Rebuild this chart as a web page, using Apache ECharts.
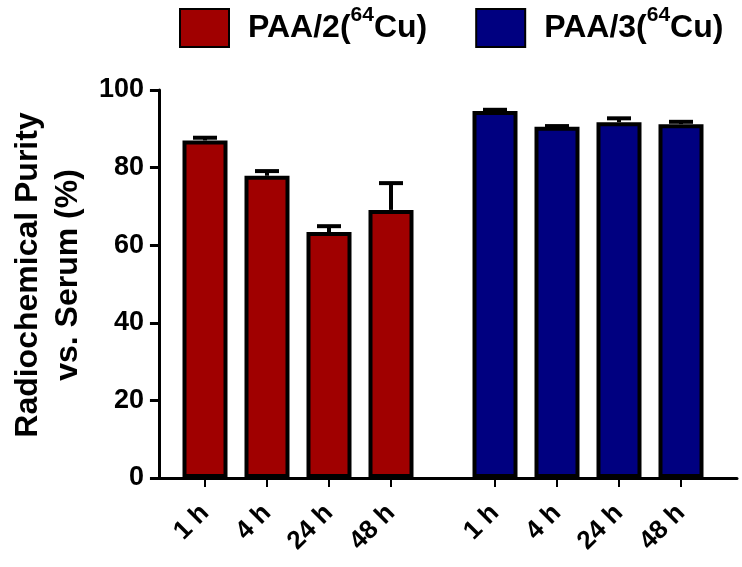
<!DOCTYPE html>
<html>
<head>
<meta charset="utf-8">
<title>Radiochemical purity vs. serum</title>
<script src="https://cdn.jsdelivr.net/npm/echarts@6/dist/echarts.min.js"></script>
<style>
  html, body { margin: 0; padding: 0; background: #fff; }
  #chart { width: 742px; height: 567px; }
</style>
</head>
<body>
<div id="chart"></div>
<script>
// time points (same for both groups)
var timeLabels = ['1 h', '4 h', '24 h', '48 h']
var yTicks = [0, 20, 40, 60, 80, 100]
// PAA/2(64Cu)
var paa2Mean = [87.0, 77.9, 63.4, 69.1]
var paa2Err = [0.7, 1.2, 1.5, 6.9]
// PAA/3(64Cu)
var paa3Mean = [94.6, 90.5, 91.7, 91.2]
var paa3Err = [0.3, 0.2, 1.0, 0.6]
var seriesNames = ['PAA/2(64Cu)', 'PAA/3(64Cu)']
var seriesColors = ['#a00000', '#000080']

var font = '"Liberation Sans", Arial, sans-serif'
var plotTop = 90
var plotBottom = 89

function errorBars(params, api) {
  var base = api.coord([api.value(0), api.value(1)])
  var top = api.coord([api.value(0), api.value(1) + api.value(2)])
  var style = { stroke: '#000', lineWidth: 4 }
  return {
    type: 'group',
    children: [
      { type: 'line', shape: { x1: base[0], y1: base[1], x2: top[0], y2: top[1] }, style: style },
      { type: 'line', shape: { x1: top[0] - 12, y1: top[1], x2: top[0] + 12, y2: top[1] }, style: style }
    ]
  }
}

function groupXAxis(gridIndex) {
  return {
    type: 'category',
    gridIndex: gridIndex,
    data: timeLabels,
    axisLine: { show: false },
    axisTick: { show: true, alignWithLabel: true, length: 9, lineStyle: { color: '#000', width: 2 } },
    axisLabel: { rotate: 45, margin: 31, color: '#000', fontSize: 26, fontWeight: 'bold', fontFamily: font }
  }
}

function hiddenYAxis(gridIndex) {
  return { type: 'value', gridIndex: gridIndex, min: yTicks[0], max: yTicks[yTicks.length - 1], show: false }
}

var chart = echarts.init(document.getElementById('chart'))
chart.setOption({
  backgroundColor: '#fff',
  animation: false,
  legend: {
    data: seriesNames,
    left: 174,
    top: 0,
    itemWidth: 49,
    itemHeight: 38,
    itemGap: 48,
    icon: 'rect',
    formatter: function(n) {
      return '{t|' + n.replace(/\((\d+)/, '(}{s|$1}{t|') + '}'
    },
    textStyle: {
      padding: [0, 0, 0, 14],
      rich: {
        t: { fontSize: 32, fontWeight: 'bold', fontFamily: font, color: '#000', lineHeight: 46 },
        s: { fontSize: 21, fontWeight: 'bold', fontFamily: font, color: '#000', lineHeight: 24, verticalAlign: 'top' }
      }
    }
  },
  grid: [
    // frame grid: holds the y axis and the continuous baseline
    { left: 152, right: 5, top: plotTop, bottom: plotBottom },
    { left: 174, width: 248, top: plotTop, bottom: plotBottom },
    { left: 464, width: 248, top: plotTop, bottom: plotBottom }
  ],
  xAxis: [
    {
      type: 'value', gridIndex: 0, min: 0, max: 1,
      axisLine: { show: true, lineStyle: { color: '#000', width: 3 } },
      axisTick: { show: false }, axisLabel: { show: false }, splitLine: { show: false }
    },
    groupXAxis(1),
    groupXAxis(2)
  ],
  yAxis: [
    {
      type: 'value', gridIndex: 0,
      min: yTicks[0], max: yTicks[yTicks.length - 1], interval: yTicks[1] - yTicks[0],
      name: 'Radiochemical Purity\nvs. Serum (%)',
      nameLocation: 'middle',
      nameGap: 70,
      nameTextStyle: { color: '#000', fontSize: 32, fontWeight: 'bold', fontFamily: font, lineHeight: 40, padding: [0, 0, 0, 18] },
      axisLine: { show: true, lineStyle: { color: '#000', width: 3 } },
      axisTick: { show: true, length: 9, lineStyle: { color: '#000', width: 3 } },
      axisLabel: { color: '#000', fontSize: 27, fontWeight: 'bold', fontFamily: font, margin: 15 },
      splitLine: { show: false }
    },
    hiddenYAxis(1),
    hiddenYAxis(2)
  ],
  series: [
    {
      name: seriesNames[0], type: 'bar', xAxisIndex: 1, yAxisIndex: 1,
      data: paa2Mean, barWidth: 45,
      itemStyle: { color: seriesColors[0], borderColor: '#000', borderWidth: 4 }
    },
    {
      name: seriesNames[1], type: 'bar', xAxisIndex: 2, yAxisIndex: 2,
      data: paa3Mean, barWidth: 45,
      itemStyle: { color: seriesColors[1], borderColor: '#000', borderWidth: 4 }
    },
    {
      type: 'custom', xAxisIndex: 1, yAxisIndex: 1, z: 5,
      renderItem: errorBars,
      data: paa2Mean.map(function(v, i) { return [i, v, paa2Err[i]] })
    },
    {
      type: 'custom', xAxisIndex: 2, yAxisIndex: 2, z: 5,
      renderItem: errorBars,
      data: paa3Mean.map(function(v, i) { return [i, v, paa3Err[i]] })
    }
  ]
})
</script>
</body>
</html>
